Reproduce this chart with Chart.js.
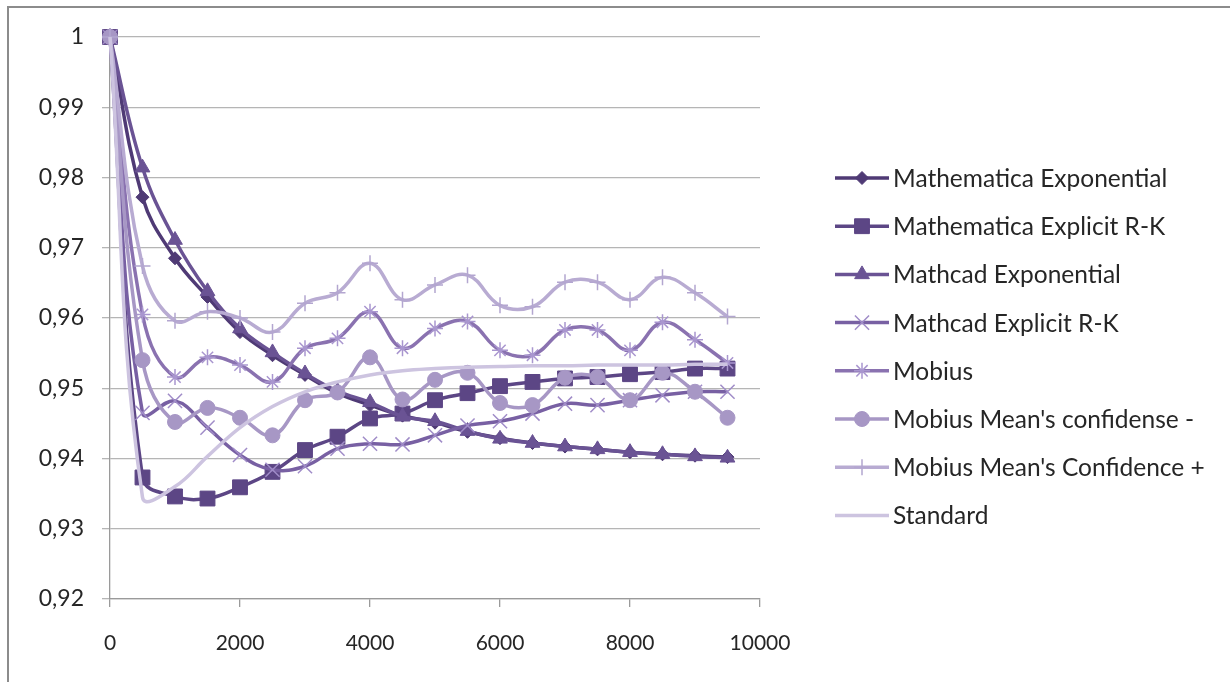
<!DOCTYPE html>
<html>
<head>
<meta charset="utf-8">
<title>Mobius comparison</title>
<script src="https://cdn.jsdelivr.net/npm/chart.js"></script>
<style>
  html, body { margin: 0; padding: 0; background: #fff; }
  #wrap { width: 1230px; height: 682px; }
</style>
</head>
<body>
<div id="wrap"><canvas id="chart" width="1230" height="682"></canvas></div>
<script>
// x positions (time steps)
const xValues = [0, 500, 1000, 1500, 2000, 2500, 3000, 3500, 4000, 4500,
                 5000, 5500, 6000, 6500, 7000, 7500, 8000, 8500, 9000, 9500];

const seriesNames = [
    'Mathematica Exponential',
    'Mathematica Explicit R-K',
    'Mathcad Exponential',
    'Mathcad Explicit R-K',
    'Mobius',
    "Mobius Mean's confidense -",
    "Mobius Mean's Confidence +",
    'Standard'
];

const mathematicaExp = [1, 0.9772, 0.9685, 0.9630, 0.9580, 0.9547, 0.9519, 0.9493, 0.9476, 0.9461,
                        0.9451, 0.9438, 0.9429, 0.9422, 0.9417, 0.9413, 0.9409, 0.9406, 0.9404, 0.9402];
const mathematicaRK = [1, 0.9373, 0.9346, 0.9343, 0.9359, 0.9381, 0.9412, 0.9431, 0.9457, 0.9464,
                       0.9483, 0.9493, 0.9503, 0.9509, 0.9514, 0.9516, 0.9520, 0.9523, 0.9528, 0.9528];
const mathcadExp = [1, 0.9814, 0.9711, 0.9638, 0.9585, 0.9551, 0.9521, 0.9496, 0.9480, 0.9460,
                    0.9453, 0.9439, 0.9428, 0.9422, 0.9417, 0.9413, 0.9409, 0.9406, 0.9403, 0.9401];
const mathcadRK = [1, 0.9465, 0.9482, 0.9444, 0.9405, 0.9384, 0.9389, 0.9414, 0.9421, 0.9420,
                   0.9433, 0.9447, 0.9453, 0.9464, 0.9478, 0.9476, 0.9483, 0.9490, 0.9495, 0.9495];
const mobius = [1, 0.9605, 0.9516, 0.9544, 0.9533, 0.9509, 0.9557, 0.9571, 0.9609, 0.9557,
                0.9585, 0.9595, 0.9554, 0.9547, 0.9583, 0.9583, 0.9554, 0.9594, 0.9569, 0.9536];
const mobiusMinus = [1, 0.9540, 0.9452, 0.9472, 0.9458, 0.9433, 0.9483, 0.9494, 0.9544, 0.9484,
                     0.9512, 0.9522, 0.9479, 0.9476, 0.9515, 0.9516, 0.9483, 0.9522, 0.9495, 0.9458];
const mobiusPlus = [1, 0.9674, 0.9596, 0.9609, 0.9600, 0.9580, 0.9621, 0.9636, 0.9678, 0.9626,
                    0.9647, 0.9661, 0.9618, 0.9616, 0.9651, 0.9651, 0.9626, 0.9658, 0.9636, 0.9602];
const standard = [1, 0.9345, 0.9360, 0.9403, 0.9444, 0.9474, 0.9495, 0.9509, 0.9519, 0.9525,
                  0.9528, 0.9530, 0.9531, 0.9532, 0.9532, 0.9533, 0.9533, 0.9533, 0.9534, 0.9534];

const allSeries = [mathematicaExp, mathematicaRK, mathcadExp, mathcadRK,
                   mobius, mobiusMinus, mobiusPlus, standard];

const lineColors = ['#4f3a75', '#5c4685', '#6a5394', '#7860a3', '#8a72b0', '#a797c5', '#b8abd2', '#cdc4e0'];
const markerEdge = ['#4f3a75', '#5c4685', '#6a5394', '#a08cc8', '#a996cf', '#a797c5', '#b3a6d0', '#cdc4e0'];
const markerStyles = ['rectRot', 'rect', 'triangle', 'crossRot', 'star', 'circle', 'cross', false];
const markerSizes = [6.5, 10.5, 8.5, 10, 8, 7.5, 8, 0];
const markerEdgeWidth = [1, 1, 1, 1.5, 1.5, 1, 1.5, 0];

const datasets = seriesNames.map((name, i) => ({
    label: name,
    data: xValues.map((x, j) => ({ x: x, y: allSeries[i][j] })),
    borderColor: lineColors[i],
    backgroundColor: lineColors[i],
    borderWidth: 3.5,
    tension: 0.4,
    pointStyle: markerStyles[i],
    pointRadius: markerSizes[i],
    pointBackgroundColor: lineColors[i],
    pointBorderColor: markerEdge[i],
    pointBorderWidth: markerEdgeWidth[i],
    clip: false,
    order: -i
}));

const textColor = '#262626';
const axisColor = '#9a9a9a';

const sideLegend = {
    id: 'sideLegend',
    afterDraw(chart) {
        const ctx = chart.ctx;
        ctx.save();
        // chart frame (top and left edges only)
        ctx.strokeStyle = '#8c8c8c';
        ctx.lineWidth = 2;
        ctx.beginPath();
        ctx.moveTo(8, 682);
        ctx.lineTo(8, 7);
        ctx.lineTo(1230, 7);
        ctx.stroke();

        const x0 = 835, x1 = 889;
        ctx.font = '24.5px Lato';
        ctx.textBaseline = 'middle';
        ctx.textAlign = 'left';
        chart.data.datasets.forEach((ds, i) => {
            const y = 178 + i * 48.2;
            ctx.strokeStyle = ds.borderColor;
            ctx.lineWidth = ds.borderWidth;
            ctx.beginPath();
            ctx.moveTo(x0, y);
            ctx.lineTo(x1, y);
            ctx.stroke();
            if (ds.pointStyle && Chart.helpers && Chart.helpers.drawPoint) {
                ctx.fillStyle = ds.pointBackgroundColor;
                ctx.strokeStyle = ds.pointBorderColor;
                ctx.lineWidth = ds.pointBorderWidth;
                Chart.helpers.drawPoint(ctx, {
                    pointStyle: ds.pointStyle,
                    radius: ds.pointRadius,
                    borderWidth: ds.pointBorderWidth,
                    rotation: 0
                }, (x0 + x1) / 2, y);
            }
            ctx.fillStyle = textColor;
            ctx.fillText(ds.label, 893, y + 1);
        });
        ctx.restore();
    }
};

new Chart(document.getElementById('chart'), {
    type: 'line',
    data: { datasets: datasets },
    options: {
        responsive: false,
        animation: false,
        events: [],
        layout: { padding: { left: 0, right: 470, top: 37, bottom: 0 } },
        plugins: {
            legend: { display: false },
            tooltip: { enabled: false }
        },
        scales: {
            x: {
                type: 'linear',
                min: 0,
                max: 10000,
                afterFit: s => { s.height = 83; },
                border: { color: axisColor, width: 1.3 },
                grid: { drawOnChartArea: false, drawTicks: true, tickLength: 8, color: axisColor, lineWidth: 1.3 },
                ticks: {
                    stepSize: 2000,
                    padding: 24,
                    maxRotation: 0,
                    color: textColor,
                    font: { family: 'Lato', size: 21 },
                    callback: v => String(v)
                }
            },
            y: {
                type: 'linear',
                min: 0.92,
                max: 1,
                afterFit: s => { s.width = 110; },
                border: { color: axisColor, width: 1.3 },
                grid: { color: '#b5b5b5', lineWidth: 1.3, drawTicks: true, tickLength: 8 },
                ticks: {
                    stepSize: 0.01,
                    padding: 18,
                    color: textColor,
                    font: { family: 'Lato', size: 23 },
                    callback: v => String(Number(v.toFixed(2))).replace('.', ',')
                }
            }
        }
    },
    plugins: [sideLegend]
});
</script>
</body>
</html>
